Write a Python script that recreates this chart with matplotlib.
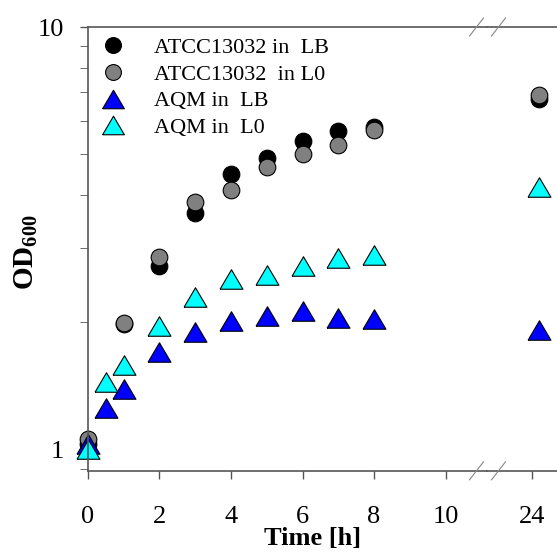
import matplotlib
matplotlib.use('Agg')
import matplotlib.pyplot as plt
from matplotlib.lines import Line2D
from matplotlib.ticker import LogLocator, FixedLocator, NullFormatter, FixedFormatter

plt.rcParams['font.family'] = ['Liberation Serif', 'DejaVu Serif']
plt.rcParams['mathtext.fontset'] = 'custom'
plt.rcParams['mathtext.rm'] = 'Liberation Serif'
plt.rcParams['mathtext.bf'] = 'Liberation Serif:bold'

# Data (OD600 over time, hours)
time = [0, 0.5, 1, 2, 3, 4, 5, 6, 7, 8, 24.2]
atcc_lb = [1.03, None, 1.98, 2.72, 3.63, 4.49, 4.90, 5.36, 5.66, 5.79, 6.76]
atcc_l0 = [1.06, None, 1.99, 2.86, 3.86, 4.11, 4.67, 5.01, 5.25, 5.69, 6.91]
aqm_lb = [1.03, 1.25, 1.39, 1.70, 1.90, 2.01, 2.07, 2.13, 2.05, 2.03, 1.92]
aqm_l0 = [1.00, 1.44, 1.58, 1.96, 2.29, 2.53, 2.59, 2.71, 2.83, 2.89, 4.18]

labels = ['ATCC13032 in  LB', 'ATCC13032  in L0', 'AQM in  LB', 'AQM in  L0']
colors = ['#000000', '#808080', '#0000ff', '#00ffff']
series = [atcc_lb, atcc_l0, aqm_lb, aqm_l0]

# slightly flattened triangle, like the original symbols
tri = [(-1, -0.85), (1, -0.85), (0, 0.85), (-1, -0.85)]
markers = ['o', 'o', tri, tri]
sizes = [12, 12, 16.5, 16.5]

W, H = 557, 553
fig = plt.figure(figsize=(W / 100, H / 100), dpi=100)

x0, xb, x1 = 87.7, 487.0, 557.0
ytop, ybot = 27.0, 470.8
px_per_h = 35.8
bottom = 1 - ybot / H
height = (ybot - ytop) / H
axL = fig.add_axes([x0 / W, bottom, (xb - x0) / W, height])
axR = fig.add_axes([xb / W, bottom, (x1 - xb) / W, height], sharey=axL)

spine_col = '#555555'
for ax in (axL, axR):
    ax.set_yscale('log')
    for s in ax.spines.values():
        s.set_color(spine_col)
        s.set_linewidth(1.2)
    ax.spines['right'].set_visible(False)
    ax.tick_params(colors=spine_col, labelcolor='black', labelsize=19,
                   width=1.0, length=6, direction='out')
    ax.tick_params(axis='x', pad=19)
    for ys, m, ms, c, lab in zip(series, markers, sizes, colors, labels):
        pts = [(t, v) for t, v in zip(time, ys) if v is not None]
        xs = [p[0] for p in pts]
        vs = [p[1] for p in pts]
        ax.plot(xs, vs, linestyle='none', marker=m, markersize=ms,
                markerfacecolor=c, markeredgecolor='black',
                markeredgewidth=0.8, clip_on=False, label=lab)

axR.spines['left'].set_visible(False)

axL.set_xlim(0, (xb - x0) / px_per_h)
axR.set_xlim(24 - (532 - xb) / px_per_h, 24 - (532 - xb) / px_per_h + (x1 - xb) / px_per_h)
axL.set_ylim(0.889, 10)

axL.xaxis.set_major_locator(FixedLocator([0, 2, 4, 6, 8, 10]))
axR.xaxis.set_major_locator(FixedLocator([24]))
axL.yaxis.set_major_locator(FixedLocator([1, 10]))
axL.yaxis.set_major_formatter(FixedFormatter(['1', '10']))
axL.yaxis.set_minor_locator(LogLocator(base=10, subs=range(2, 10)))
axL.yaxis.set_minor_formatter(NullFormatter())
axL.tick_params(axis='y', which='both', pad=11, length=6, colors=spine_col, labelcolor='black')
axR.tick_params(axis='y', which='both', left=False, labelleft=False)

leg = axL.legend(loc='upper left', bbox_to_anchor=(-0.01, 1.012), frameon=False,
                 fontsize=16, handletextpad=1.25, labelspacing=0.28,
                 borderaxespad=0.3, markerscale=0.95, handlelength=1.2)

# break marks
for yb in (ytop, ybot):
    for xc in (476.5, 498.5):
        fig.add_artist(Line2D([(xc - 7) / W, (xc + 7) / W],
                              [1 - (yb + 9) / H, 1 - (yb - 9) / H],
                              color='#888888', linewidth=0.8))

fig.text(26 / W, 1 - 252 / H, r'$\mathbf{OD_{600}}$', rotation=90,
         ha='center', va='center', fontsize=21)
fig.text(313 / W, 1 - 538 / H, 'Time [h]', ha='center', va='center',
         fontsize=19, fontweight='bold')

fig.savefig('out.png', dpi=100)
